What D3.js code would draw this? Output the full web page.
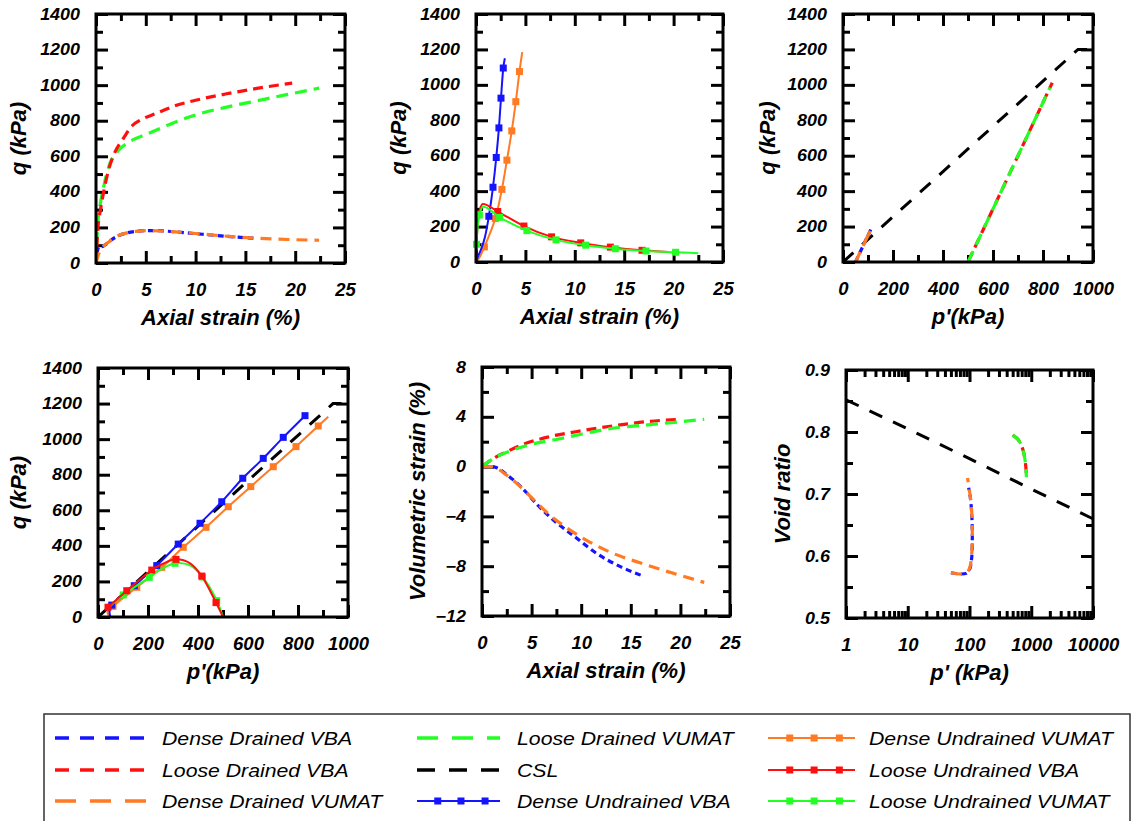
<!DOCTYPE html>
<html>
<head>
<meta charset="utf-8">
<script src="https://cdn.jsdelivr.net/npm/d3@7"></script>
<style>
body { margin: 0; background: #fff; }
svg text { font-family: "Liberation Sans", Arial, sans-serif; }
</style>
</head>
<body>
<svg id="chart" width="1132" height="821"></svg>
<script>

// tick labels
var strainTicks = [0, 5, 10, 15, 20, 25];
var qTicks = [0, 200, 400, 600, 800, 1000, 1200, 1400];
var pTicks = [0, 200, 400, 600, 800, 1000];
var volTicks = [-12, -8, -4, 0, 4, 8];
var voidTicks = [0.5, 0.6, 0.7, 0.8, 0.9];
var logTicks = [1, 10, 100, 1000, 10000];

// q vs axial strain, drained
var denseDrainedVBA_q = [[0,0],[0.15,70],[0.35,95],[0.6,92],[1,105],[1.5,128],[2.2,152],[3,168],[4,178],[5,182],[6,182],[8,175],[10,165],[12,155],[14,146],[15.8,140]];
var looseDrainedVBA_q = [[0,0],[0.2,200],[0.45,300],[0.77,400],[1.2,510],[1.8,610],[2.8,705],[3.6,770],[4.5,805],[6,840],[8,885],[10,915],[13,950],[16,980],[19.7,1012]];
var denseDrainedVUMAT_q = [[0,0],[0.3,55],[0.7,92],[1.2,115],[2,148],[3,168],[4,178],[5,182],[6.5,180],[8,175],[10,166],[12,156],[14,147],[16,140],[18,135],[20,131],[22.4,128]];
var looseDrainedVUMAT_q = [[0,0],[0.15,200],[0.4,320],[0.77,430],[1.4,560],[2.2,630],[3,670],[4,700],[5,722],[7,770],[10,833],[13,875],[16,910],[19,945],[22.4,983]];

// q vs axial strain, undrained (third value = marker)
var denseUndrainedVBA_q = [[0,0],[0.2,30],[0.5,70],[0.9,140],[1.3,258,1],[1.72,422,1],[2.05,590,1],[2.32,757,1],[2.53,925,1],[2.76,1095,1],[2.92,1150]];
var denseUndrainedVUMAT_q = [[0,0],[0.4,30],[0.85,85,1],[1.4,160],[1.95,245,1],[2.62,410,1],[3.13,575,1],[3.62,740,1],[4.03,905,1],[4.4,1075,1],[4.68,1185]];
var looseUndrainedVBA_q = [[0,0],[0.1,150],[0.2,250],[0.4,300],[0.7,328],[2.2,285,1],[4.85,203,1],[7.65,142,1],[10.6,108,1],[13.6,84,1],[16.8,66,1],[19.5,57]];
var looseUndrainedVUMAT_q = [[0,0],[0.05,100,1],[0.34,265,1],[0.74,312],[2.4,252,1],[5.15,177,1],[8.1,125,1],[11.1,95,1],[14.1,75,1],[17.2,62,1],[20.2,55,1],[22.5,50]];

// q vs p', drained
var denseDrainedVBA_pq = [[50,0],[80,90],[111,183],[97,140]];
var denseDrainedVUMAT_pq = [[50,0],[80,90],[110,180],[93,128]];
var looseDrainedVBA_pq = [[500,0],[600,300],[700,600],[837,1012]];
var looseDrainedVUMAT_pq = [[500,0],[600,300],[700,600],[828,985]];
var csl_pq = [[0,0],[940,1200],[1000,1200]];

// q vs p', undrained
var denseUndrainedVBA_pq = [[50,0],[46,30],[55,67,1],[145,176,1],[235,289,1],[321,410,1],[408,527,1],[495,648,1],[579,780,1],[661,892,1],[741,1010,1],[828,1132,1]];
var denseUndrainedVUMAT_pq = [[50,0],[38,25],[60,60,1],[155,167,1],[255,279,1],[341,392,1],[432,504,1],[521,620,1],[611,733,1],[701,845,1],[792,958,1],[881,1074,1],[921,1126]];
var looseUndrainedVBA_pq = [[500,0],[472,81,1],[415,230,1],[370,300],[312,324,1],[260,300],[215,264,1],[115,148,1],[40,55,1]];
var looseUndrainedVUMAT_pq = [[500,0],[475,92,1],[418,225,1],[368,290],[308,302,1],[255,270],[205,223,1],[101,124,1],[42,52]];

// volumetric strain vs axial strain
var denseDrainedVBA_vol = [[0,0],[1,0],[1.5,-0.1],[2.5,-0.65],[3.5,-1.3],[4.5,-2.1],[5.5,-3.0],[7.5,-4.5],[9.3,-5.6],[11.6,-7.0],[14,-8.05],[16,-8.72]];
var looseDrainedVBA_vol = [[0,0],[0.5,0.3],[1.35,0.75],[2.5,1.2],[4.2,1.8],[6.5,2.35],[9.6,2.82],[13.3,3.28],[16.7,3.62],[19.9,3.8]];
var denseDrainedVUMAT_vol = [[0,0],[1,0],[1.5,-0.15],[2.5,-0.7],[3.5,-1.35],[4.5,-2.1],[5.5,-2.9],[7,-4.0],[8.5,-4.9],[10.5,-5.9],[13,-6.9],[16,-7.75],[19.4,-8.6],[22.4,-9.3]];
var looseDrainedVUMAT_vol = [[0,0],[0.5,0.3],[1.5,0.8],[3,1.3],[5,1.8],[7.6,2.2],[10,2.6],[13.3,3.1],[16.7,3.35],[20,3.6],[22.4,3.8]];

// void ratio vs p'
var csl_e = [[1,0.852],[10,0.805],[100,0.757],[1000,0.708],[10000,0.66]];
var denseDrainedVBA_e = [[50,0.573],[70,0.571],[88,0.572],[100,0.578],[108,0.595],[111,0.63],[109,0.665],[103,0.695],[97,0.71]];
var denseDrainedVUMAT_e = [[50,0.573],[70,0.571],[88,0.572],[100,0.58],[108,0.6],[111,0.635],[108,0.675],[100,0.705],[93,0.726]];
var looseDrainedVBA_e = [[500,0.795],[600,0.789],[680,0.78],[750,0.768],[800,0.752],[825,0.738],[840,0.726]];
var looseDrainedVUMAT_e = [[500,0.795],[580,0.79],[660,0.783],[730,0.772],[790,0.756],[820,0.74],[835,0.727]];

var legendNames = [
	['denseDrainedVBA', 'Dense Drained VBA'],
	['looseDrainedVBA', 'Loose Drained VBA'],
	['denseDrainedVUMAT', 'Dense Drained VUMAT'],
	['looseDrainedVUMAT', 'Loose Drained VUMAT'],
	['csl', 'CSL'],
	['denseUndrainedVBA', 'Dense Undrained VBA'],
	['denseUndrainedVUMAT', 'Dense Undrained VUMAT'],
	['looseUndrainedVBA', 'Loose Undrained VBA'],
	['looseUndrainedVUMAT', 'Loose Undrained VUMAT']
];

var styles = {
	denseDrainedVBA:     { color: '#1414ff', dash: '6,4',   width: 3.2, legendDash: '14,11' },
	looseDrainedVBA:     { color: '#ff1010', dash: '10,6',  width: 3.2, legendDash: '14,11' },
	denseDrainedVUMAT:   { color: '#ff7a22', dash: '11,7',  width: 3.2, legendDash: '21,14' },
	looseDrainedVUMAT:   { color: '#22ff22', dash: '12,7',  width: 3.2, legendDash: '21,14' },
	csl:                 { color: '#000000', dash: '14,12', width: 3,   legendDash: '18,14', linear: true },
	denseUndrainedVBA:   { color: '#1414ff', dash: null, width: 2, marker: true },
	denseUndrainedVUMAT: { color: '#ff7a22', dash: null, width: 2, marker: true },
	looseUndrainedVBA:   { color: '#ff1010', dash: null, width: 2, marker: true },
	looseUndrainedVUMAT: { color: '#22ff22', dash: null, width: 2, marker: true }
};

var chart = (function() {

	var svg = d3.select('#chart');
	var clipId = 0;

	var init = function() {
		drawPanel({ box: [96, 14, 249, 249], xDom: [0, 25], xTicks: strainTicks, yDom: [0, 1400], yTicks: qTicks,
			xTitle: 'Axial strain (%)', yTitle: 'q (kPa)', yOff: 78, curve: d3.curveMonotoneX,
			series: [['looseDrainedVUMAT', looseDrainedVUMAT_q], ['looseDrainedVBA', looseDrainedVBA_q],
				['denseDrainedVBA', denseDrainedVBA_q], ['denseDrainedVUMAT', denseDrainedVUMAT_q]] });

		drawPanel({ box: [476, 14, 247, 248], xDom: [0, 25], xTicks: strainTicks, yDom: [0, 1400], yTicks: qTicks,
			xTitle: 'Axial strain (%)', yTitle: 'q (kPa)', yOff: 78, curve: d3.curveMonotoneX,
			series: [['denseUndrainedVUMAT', denseUndrainedVUMAT_q], ['denseUndrainedVBA', denseUndrainedVBA_q],
				['looseUndrainedVBA', looseUndrainedVBA_q], ['looseUndrainedVUMAT', looseUndrainedVUMAT_q]] });

		drawPanel({ box: [843, 14, 250, 248], xDom: [0, 1000], xTicks: pTicks, yDom: [0, 1400], yTicks: qTicks,
			xTitle: "p'(kPa)", yTitle: 'q (kPa)', yOff: 76, curve: d3.curveLinear,
			series: [['csl', csl_pq], ['denseDrainedVBA', denseDrainedVBA_pq], ['denseDrainedVUMAT', denseDrainedVUMAT_pq],
				['looseDrainedVBA', looseDrainedVBA_pq], ['looseDrainedVUMAT', looseDrainedVUMAT_pq]] });

		drawPanel({ box: [98, 368, 250, 249], xDom: [0, 1000], xTicks: pTicks, yDom: [0, 1400], yTicks: qTicks,
			xTitle: "p'(kPa)", yTitle: 'q (kPa)', yOff: 80, curve: d3.curveCatmullRom.alpha(0.5),
			series: [['csl', csl_pq], ['denseUndrainedVUMAT', denseUndrainedVUMAT_pq], ['denseUndrainedVBA', denseUndrainedVBA_pq],
				['looseUndrainedVUMAT', looseUndrainedVUMAT_pq], ['looseUndrainedVBA', looseUndrainedVBA_pq]] });

		drawPanel({ box: [482, 367, 248, 249], xDom: [0, 25], xTicks: strainTicks, yDom: [-12, 8], yTicks: volTicks,
			xTitle: 'Axial strain (%)', yTitle: 'Volumetric strain (%)', yOff: 65, curve: d3.curveMonotoneX,
			series: [['looseDrainedVBA', looseDrainedVBA_vol], ['looseDrainedVUMAT', looseDrainedVUMAT_vol],
				['denseDrainedVBA', denseDrainedVBA_vol], ['denseDrainedVUMAT', denseDrainedVUMAT_vol]] });

		drawPanel({ box: [846, 370, 247, 248], xDom: [1, 10000], xLog: true, xTicks: logTicks, yDom: [0.5, 0.9], yTicks: voidTicks,
			xTitle: "p' (kPa)", yTitle: 'Void ratio', yOff: 64, curve: d3.curveCatmullRom.alpha(0.5), yFmt: d3.format('.1f'),
			series: [['csl', csl_e], ['denseDrainedVBA', denseDrainedVBA_e], ['denseDrainedVUMAT', denseDrainedVUMAT_e],
				['looseDrainedVBA', looseDrainedVBA_e], ['looseDrainedVUMAT', looseDrainedVUMAT_e]] });

		drawLegend();
	};

	var stretch = function(sel, k) {
		sel.each(function() {
			var w = this.getComputedTextLength();
			d3.select(this).attr('textLength', w * k).attr('lengthAdjust', 'spacingAndGlyphs');
		});
	};

	var midpoints = function(t) {
		var out = [];
		for (var i = 1; i < t.length; i++) out.push((t[i - 1] + t[i]) / 2);
		return out;
	};

	var logMinor = function(t) {
		var out = [];
		for (var i = 0; i < t.length - 1; i++)
			for (var m = 2; m < 10; m++) out.push(t[i] * m);
		return out;
	};

	var drawPanel = function(p) {
		var b = p.box, w = b[2], h = b[3];
		var g = svg.append('g').attr('transform', 'translate(' + b[0] + ',' + b[1] + ')');

		var x = (p.xLog ? d3.scaleLog() : d3.scaleLinear()).domain(p.xDom).range([0, w]);
		var y = d3.scaleLinear().domain(p.yDom).range([h, 0]);

		var xMinor = p.xLog ? logMinor(p.xTicks) : midpoints(p.xTicks);
		var yMinor = midpoints(p.yTicks);
		var yFmt = p.yFmt || d3.format('d');
		var xFmt = d3.format('d');

		// ticks on all four sides, pointing inwards
		var axes = [
			[d3.axisBottom(x).tickValues(p.xTicks).tickFormat(xFmt).tickSize(-12).tickPadding(20), 0, h, 'xb'],
			[d3.axisBottom(x).tickValues(xMinor).tickFormat('').tickSize(-7), 0, h],
			[d3.axisTop(x).tickValues(p.xTicks).tickFormat('').tickSize(-12), 0, 0],
			[d3.axisTop(x).tickValues(xMinor).tickFormat('').tickSize(-7), 0, 0],
			[d3.axisLeft(y).tickValues(p.yTicks).tickFormat(yFmt).tickSize(-12).tickPadding(16), 0, 0, 'yl'],
			[d3.axisLeft(y).tickValues(yMinor).tickFormat('').tickSize(-7), 0, 0],
			[d3.axisRight(y).tickValues(p.yTicks).tickFormat('').tickSize(-12), w, 0],
			[d3.axisRight(y).tickValues(yMinor).tickFormat('').tickSize(-7), w, 0]
		];

		axes.forEach(function(a) {
			var ag = g.append('g').attr('transform', 'translate(' + a[1] + ',' + a[2] + ')').call(a[0]);
			ag.select('.domain').remove();
			ag.selectAll('line').attr('stroke', '#000').attr('stroke-width', 3);
			ag.selectAll('text').attr('fill', '#000').attr('font-weight', 'bold').attr('font-style', 'italic');
			if (a[3] == 'xb') ag.selectAll('text').attr('font-size', 18.5);
			if (a[3] == 'yl') {
				ag.selectAll('text').attr('font-size', 16);
				stretch(ag.selectAll('text'), 1.12);
			}
		});

		var cid = 'clip' + (clipId++);
		g.append('clipPath').attr('id', cid).append('rect').attr('width', w).attr('height', h);

		p.series.forEach(function(s) {
			var st = styles[s[0]];
			var line = d3.line()
				.x(function(d) { return x(d[0]); })
				.y(function(d) { return y(d[1]); })
				.curve(st.linear ? d3.curveLinear : p.curve);

			g.append('path')
				.attr('clip-path', 'url(#' + cid + ')')
				.attr('d', line(s[1]))
				.attr('fill', 'none')
				.attr('stroke', st.color)
				.attr('stroke-width', st.width)
				.attr('stroke-dasharray', st.dash);

			if (st.marker) {
				g.selectAll(null)
					.data(s[1].filter(function(d) { return d[2]; }))
					.enter()
						.append('rect')
						.attr('x', function(d) { return x(d[0]) - 3.5; })
						.attr('y', function(d) { return y(d[1]) - 3.5; })
						.attr('width', 7)
						.attr('height', 7)
						.attr('fill', st.color);
			}
		});

		g.append('rect')
			.attr('width', w).attr('height', h)
			.attr('fill', 'none').attr('stroke', '#000').attr('stroke-width', 3);

		g.append('text')
			.attr('x', w / 2).attr('y', h + 62)
			.attr('text-anchor', 'middle')
			.attr('font-size', 22).attr('font-weight', 'bold').attr('font-style', 'italic')
			.text(p.xTitle);

		g.append('text')
			.attr('transform', 'translate(' + (-p.yOff) + ',' + (h / 2) + ') rotate(-90)')
			.attr('text-anchor', 'middle').attr('dy', '0.35em')
			.attr('font-size', 22).attr('font-weight', 'bold').attr('font-style', 'italic')
			.text(p.yTitle);
	};

	var drawLegend = function() {
		var lg = svg.append('g');
		lg.append('rect')
			.attr('x', 44).attr('y', 714).attr('width', 1086).attr('height', 130)
			.attr('fill', 'none').attr('stroke', '#333').attr('stroke-width', 1.5);

		var rows = [738, 770, 801];
		var cols = [[55, 150, 162], [417, 500, 517], [768, 855, 869]];

		legendNames.forEach(function(item, i) {
			var st = styles[item[0]];
			var c = cols[Math.floor(i / 3)], ry = rows[i % 3];

			lg.append('line')
				.attr('x1', c[0]).attr('x2', c[1]).attr('y1', ry).attr('y2', ry)
				.attr('stroke', st.color)
				.attr('stroke-width', st.marker ? 2 : 3.5)
				.attr('stroke-dasharray', st.marker ? null : st.legendDash);

			if (st.marker) {
				lg.selectAll(null)
					.data([0.25, 0.53, 0.82])
					.enter()
						.append('rect')
						.attr('x', function(f) { return c[0] + f * (c[1] - c[0]) - 3.5; })
						.attr('y', ry - 3.5)
						.attr('width', 7).attr('height', 7)
						.attr('fill', st.color);
			}

			var t = lg.append('text')
				.attr('x', c[2]).attr('y', ry + 6.5)
				.attr('font-size', 18).attr('font-style', 'italic')
				.text(item[1]);
			stretch(t, 1.18);
		});
	};

	return {
		'init': init
	};

})();

chart.init();
</script>
</body>
</html>
